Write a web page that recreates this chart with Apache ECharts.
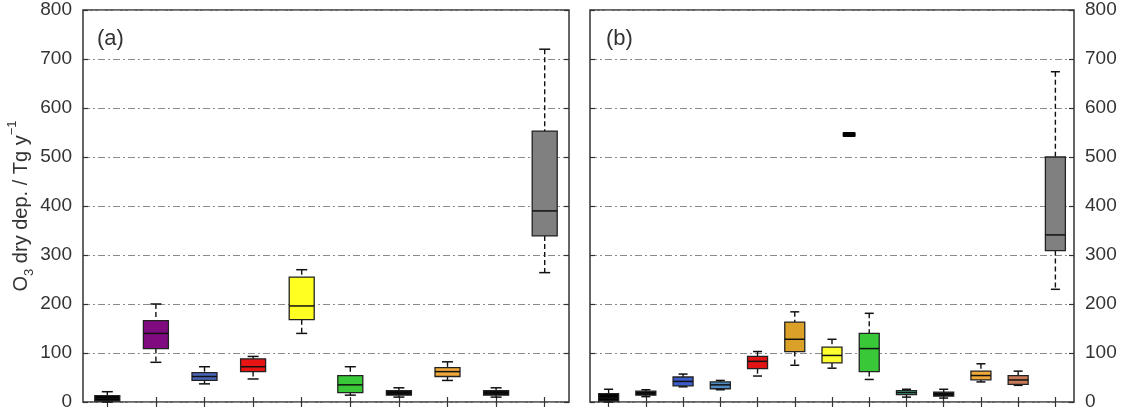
<!DOCTYPE html>
<html>
<head>
<meta charset="utf-8">
<script src="https://cdn.jsdelivr.net/npm/echarts@6/dist/echarts.min.js"></script>
<style>
  html, body { margin: 0; padding: 0; background: #fff; }
  #chart { width: 1125px; height: 412px; }
</style>
</head>
<body>
<div id="chart"></div>
<script>
// panel (a): one box per model
var catsA = ['1', '2', '3', '4', '5', '6', '7', '8', '9', '10'];
var minA = [0, 81, 37, 47, 140, 14, 10, 44, 10, 264];
var q1A  = [2, 109, 44, 62, 168, 19, 14, 52, 14, 339];
var medA = [7, 140, 52, 72, 196, 35, 18, 62, 18, 390];
var q3A  = [13, 166, 60, 88, 255, 54, 23, 70, 23, 553];
var maxA = [21, 200, 72, 93, 270, 72, 29, 82, 29, 720];

// panel (b)
var catsB = ['1', '2', '3', '4', '5', '6', '7', '8', '9', '10', '11', '12', '13'];
var minB = [0, 11, 31, 25, 53, 75, 69, 46, 10, 8, 41, 34, 230];
var q1B  = [2, 14, 33, 27, 68, 103, 80, 62, 15, 12, 45, 36, 309];
var medB = [8, 18, 42, 35, 83, 128, 95, 109, 19, 16, 54, 45, 341];
var q3B  = [17, 22, 51, 41, 93, 163, 112, 140, 23, 20, 63, 54, 500];
var maxB = [26, 25, 57, 44, 103, 184, 128, 181, 26, 26, 78, 63, 674];

// the lone bar in (b), between boxes 7 and 8
var dashB = [[6.46, 546]];

var yTicks = [0, 100, 200, 300, 400, 500, 600, 700, 800];

// colours
var colA = ['#000000', '#800a80', '#4a66b8', '#e81414', '#ffff22', '#38c838', '#000000', '#f0a838', '#000000', '#808080'];
var colB = ['#000000', '#000000', '#3c5ccc', '#4f8cc4', '#e01414', '#daa028', '#ffff30', '#38c838', '#48c8a0', '#000000', '#f0a838', '#c87a58', '#808080'];

var FONT = 'Liberation Sans, Arial, sans-serif';

function boxData(cats, mn, q1, md, q3, mx) {
  return cats.map(function (c, i) { return [i, mn[i], q1[i], md[i], q3[i], mx[i]]; });
}

// draws whisker (dashed), caps, box and median
function boxRenderer(colors, boxW, capW) {
  return function (params, api) {
    var x = api.value(0);
    var pMin = api.coord([x, api.value(1)]);
    var pQ1 = api.coord([x, api.value(2)]);
    var pMed = api.coord([x, api.value(3)]);
    var pQ3 = api.coord([x, api.value(4)]);
    var pMax = api.coord([x, api.value(5)]);
    var cx = pMed[0];
    var fill = colors[params.dataIndex];
    var dashStyle = { stroke: '#111', lineWidth: 1.4, lineDash: [5, 3] };
    var solid = { stroke: '#111', lineWidth: 1.5 };
    return {
      type: 'group',
      children: [
        { type: 'line', shape: { x1: cx, y1: pMax[1], x2: cx, y2: pQ3[1] }, style: dashStyle },
        { type: 'line', shape: { x1: cx, y1: pQ1[1], x2: cx, y2: pMin[1] }, style: dashStyle },
        { type: 'line', shape: { x1: cx - capW / 2, y1: pMax[1], x2: cx + capW / 2, y2: pMax[1] }, style: solid },
        { type: 'line', shape: { x1: cx - capW / 2, y1: pMin[1], x2: cx + capW / 2, y2: pMin[1] }, style: solid },
        { type: 'rect', shape: { x: cx - boxW / 2, y: pQ3[1], width: boxW, height: pQ1[1] - pQ3[1] },
          style: { fill: fill, stroke: '#222', lineWidth: 1.3 } },
        { type: 'line', shape: { x1: cx - boxW / 2, y1: pMed[1], x2: cx + boxW / 2, y2: pMed[1] }, style: solid }
      ]
    };
  };
}

function xAx(grid, pos, cats) {
  return {
    type: 'category', gridIndex: grid, position: pos, data: cats, boundaryGap: true,
    axisLine: { show: false },
    axisTick: { show: true, inside: true, alignWithLabel: true, length: 5, lineStyle: { color: '#333', width: 1.2 } },
    axisLabel: { show: false },
    splitLine: { show: false }
  };
}

function yAx(grid, pos, labels, split) {
  return {
    type: 'value', gridIndex: grid, position: pos, min: 0, max: 800, interval: 100,
    axisLine: { show: false },
    axisTick: { show: true, inside: true, length: 5, lineStyle: { color: '#333', width: 1.2 } },
    axisLabel: { show: labels, fontSize: 19, color: '#333', fontFamily: FONT, margin: 11,
      formatter: function (v) { return yTicks.indexOf(v) >= 0 ? String(v) : ''; } },
    splitLine: { show: split, lineStyle: { color: '#8a8a8a', width: 1, type: [7, 3, 2, 3] } }
  };
}

var chart = echarts.init(document.getElementById('chart'), null, { renderer: 'canvas' });

var yLeft = yAx(0, 'left', true, true);
yLeft.name = 'O{sub|3} dry dep. / Tg y{sup|−1}';
yLeft.nameLocation = 'middle';
yLeft.nameGap = 42;
yLeft.nameTextStyle = {
  fontSize: 20, color: '#333', fontFamily: FONT,
  rich: {
    sub: { fontSize: 13, color: '#333', fontFamily: FONT, verticalAlign: 'bottom', lineHeight: 15 },
    sup: { fontSize: 13, color: '#333', fontFamily: FONT, verticalAlign: 'top', lineHeight: 30 }
  }
};

var option = {
  animation: false,
  backgroundColor: '#fff',
  title: [
    { text: '(a)', left: 92, top: 23, textStyle: { fontSize: 22, fontWeight: 'normal', color: '#333', fontFamily: FONT } },
    { text: '(b)', left: 601, top: 23, textStyle: { fontSize: 22, fontWeight: 'normal', color: '#333', fontFamily: FONT } }
  ],
  grid: [
    { left: 83, right: 556, top: 10, bottom: 10, show: true, borderColor: '#333', borderWidth: 1.5, backgroundColor: 'transparent' },
    { left: 590, right: 51, top: 10, bottom: 10, show: true, borderColor: '#333', borderWidth: 1.5, backgroundColor: 'transparent' }
  ],
  xAxis: [
    xAx(0, 'bottom', catsA),
    xAx(0, 'top', catsA),
    xAx(1, 'bottom', catsB),
    xAx(1, 'top', catsB)
  ],
  yAxis: [
    yLeft,
    yAx(0, 'right', false, false),
    yAx(1, 'right', true, true),
    yAx(1, 'left', false, false)
  ],
  series: [
    {
      type: 'custom', xAxisIndex: 0, yAxisIndex: 0,
      data: boxData(catsA, minA, q1A, medA, q3A, maxA),
      encode: { x: 0, y: [1, 2, 3, 4, 5] },
      renderItem: boxRenderer(colA, 25, 11)
    },
    {
      type: 'custom', xAxisIndex: 2, yAxisIndex: 2,
      data: boxData(catsB, minB, q1B, medB, q3B, maxB),
      encode: { x: 0, y: [1, 2, 3, 4, 5] },
      renderItem: boxRenderer(colB, 20, 9)
    },
    {
      type: 'custom', xAxisIndex: 2, yAxisIndex: 2,
      data: dashB,
      encode: { x: 0, y: 1 },
      renderItem: function (params, api) {
        var pos = api.value(0);
        var base = Math.floor(pos);
        var p = api.coord([base, api.value(1)]);
        var band = api.size([1, 0])[0];
        var cx = p[0] + (pos - base) * band;
        return { type: 'rect', shape: { x: cx - 6.5, y: p[1] - 2.5, width: 13, height: 5, r: 1 }, style: { fill: '#000' } };
      }
    }
  ]
};

chart.setOption(option);
</script>
</body>
</html>
